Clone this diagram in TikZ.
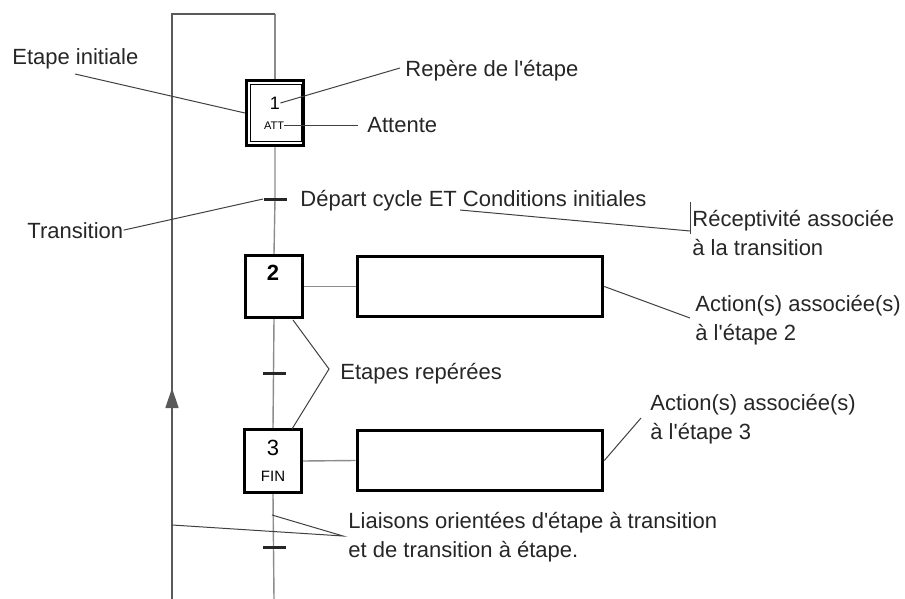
\documentclass[tikz,border=0pt]{standalone}
\usepackage{fontspec}
\setmainfont{Liberation Sans}
\usetikzlibrary{arrows.meta}
\begin{document}
\begin{tikzpicture}[x=0.5pt,y=-0.5pt,
  lbl/.style={font=\fontsize{11}{14.5}\selectfont, inner sep=0pt, anchor=base west,
              align=left, text=black!85},
  stepbox/.style={draw=black, line width=1.6pt, minimum width=28.5pt,
                  minimum height=32pt, inner sep=0pt, fill=white},
  actbox/.style={draw=black, line width=1.8pt, minimum width=122.5pt,
                 minimum height=30pt, inner sep=0pt},
  transbar/.style={fill=black!85, minimum width=11.5pt, minimum height=1.5pt,
                   inner sep=0pt},
  flow/.style={draw=black!45, line width=0.7pt},
  loopline/.style={draw=black!65, line width=0.7pt},
  leader/.style={draw=black!75, line width=0.5pt},
]
\useasboundingbox (0,0) rectangle (905,599);

% ---- steps ----
\node[stepbox, minimum height=32.5pt] (s1) at (275,113) {};
\node[draw=black, line width=0.5pt, minimum width=25.5pt, minimum height=28.5pt,
      inner sep=0pt] (s1in) at (276,113.5) {};
\node[font=\fontsize{9}{9}\selectfont, inner sep=0pt] (n1) at (275,103) {1};
\node[font=\fontsize{5.5}{6}\selectfont, inner sep=0pt] (att) at (274,126) {ATT};

\node[stepbox, minimum height=31pt] (s2) at (274,286.5) {};
\node[font=\fontsize{11}{11}\bfseries\selectfont, inner sep=0pt] (n2) at (273,273) {2};

\node[stepbox, minimum height=31.5pt] (s3) at (273,461) {};
\node[font=\fontsize{11}{11}\selectfont, inner sep=0pt] (n3) at (273,448) {3};
\node[font=\fontsize{7.5}{8}\selectfont, inner sep=0pt] (fin) at (273,476) {FIN};

% ---- actions ----
\node[actbox] (a2) at (480,286.5) {};
\node[actbox] (a3) at (480,460.5) {};

% ---- transitions ----
\node[transbar] (t1) at (275,199) {};
\node[transbar] (t2) at (274,373) {};
\node[transbar] (t3) at (274,547) {};

% ---- sequence lines ----
\coordinate (maintop) at (275,14);
\coordinate (mainbot) at (274,599);
\coordinate (looptop) at (172,14);
\coordinate (loopbot) at (172,599);
\coordinate (looparrow) at (172,388);

\draw[flow] (maintop) -- (s1.north);
\draw[flow] (s1.south) -- (s1.south |- t1.center) -- (s2.north);
\draw[flow] (s2.south) -- (s3.north);
\draw[flow] (s3.south) -- (mainbot);
\draw[flow] (s2.east) -- (a2.west);
\draw[flow] (s3.east) -- (a3.west);

\draw[loopline] (loopbot) -- (looptop) -- (maintop);
\draw[loopline, -{Triangle[length=10pt, width=6.5pt]}] (loopbot) -- (looparrow);

% transition bars on top of the flow lines
\node[transbar] at (t1) {};
\node[transbar] at (t2) {};
\node[transbar] at (t3) {};

% ---- labels (base = baseline of the last line) ----
\node[lbl] (linit) at (12,65) {Etape initiale};
\node[lbl] (lrep) at (405,77) {Repère de l\textquotesingle étape};
\node[lbl] (latt) at (367,133) {Attente};
\node[lbl] (ltr) at (27,238) {Transition};
\node[lbl] (lcond) at (300,206) {Départ cycle ET Conditions initiales};
\node[lbl] (lrec) at (692,255) {Réceptivité associée\\à la transition};
\node[lbl] (lact2) at (695,340) {Action(s) associée(s)\\à l\textquotesingle étape 2};
\node[lbl] (lrep2) at (340,379) {Etapes repérées};
\node[lbl] (lact3) at (650,439) {Action(s) associée(s)\\à l\textquotesingle étape 3};
\node[lbl] (llia) at (348,557) {Liaisons orientées d\textquotesingle étape à transition\\et de transition à étape.};

% ---- leader lines ----
\coordinate (cinit) at (75,74);
\draw[leader] (cinit) -- (s1.west);

\coordinate (crep) at (400,68);
\draw[leader] (n1.east) -- (crep);

\coordinate (catt) at (358,126);
\draw[leader] (att.east) -- (catt);

\draw[leader] (ltr.east) -- (t1.west);

\coordinate (ccond) at (460,210);
\coordinate (crec) at (690,231);
\coordinate (crectop) at (690,202);
\coordinate (crecbot) at (690,234);
\draw[leader] (ccond) -- (crec);
\draw[leader] (crectop) -- (crecbot);

\coordinate (cact2) at (690,318);
\draw[leader] (a2.east) -- (cact2);

\coordinate (crp) at (329,369);
\coordinate (cs2) at (293,320);
\coordinate (cs3) at (292,429);
\draw[leader] (cs2) -- (crp) -- (cs3);

\coordinate (cact3) at (641,418);
\draw[leader] (a3.east) -- (cact3);

\coordinate (clia) at (343,536);
\coordinate (cliamain) at (272,515);
\coordinate (clialoop) at (172,525);
\draw[leader] (cliamain) -- (clia) -- (clialoop);
\end{tikzpicture}
\end{document}
